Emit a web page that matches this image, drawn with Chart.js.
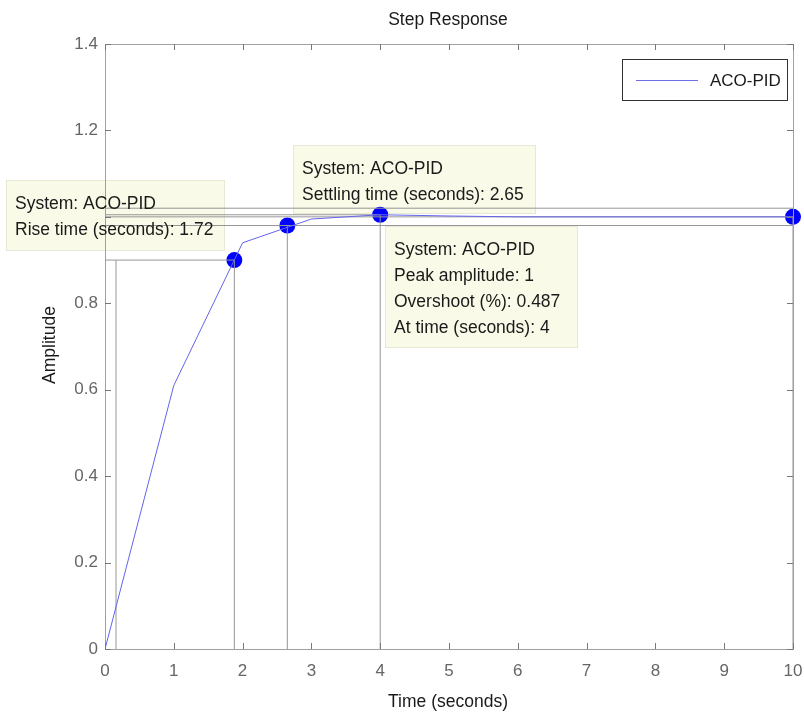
<!DOCTYPE html>
<html>
<head>
<meta charset="utf-8">
<script src="https://cdn.jsdelivr.net/npm/chart.js@4"></script>
<style>
  html, body { margin: 0; padding: 0; background: #fff; }
  #wrap { width: 804px; height: 715px; }
</style>
</head>
<body>
<div id="wrap"><canvas id="step-chart" width="804" height="715"></canvas></div>
<script>
// step response samples
const timeSec = [0, 1, 2, 3, 4, 5, 6, 7, 8, 9, 10];
const amplitude = [0, 0.61, 0.94, 0.995, 1.00487, 1.002, 1.0, 1.0, 1.0, 1.0, 1.0];

// characteristic points: rise (90%), settling, peak, steady state
const markerTimes = [1.88, 2.65, 4, 10];
const markerValues = [0.9, 0.98, 1.00487, 1];

// gray characteristic lines, each [x1, y1, x2, y2]
const riseLines = [[0.16, 0, 0.16, 0.9], [0, 0.9, 1.88, 0.9], [1.88, 0, 1.88, 0.9]];
const settleLines = [[2.65, 0, 2.65, 0.98], [0, 0.98, 10, 0.98], [0, 1.02, 10, 1.02]];
const peakLines = [[4, 0, 4, 1.00487], [0, 1.00487, 4, 1.00487]];
const steadyLines = [[10, 0, 10, 1], [0, 1, 10, 1]];

const xTicks = [0, 1, 2, 3, 4, 5, 6, 7, 8, 9, 10];
const yTicks = [0, 0.2, 0.4, 0.6, 0.8, 1, 1.2, 1.4];

const seriesName = 'ACO-PID';
const tipTexts = [
  ['System: ACO-PID', 'Rise time (seconds): 1.72'],
  ['System: ACO-PID', 'Settling time (seconds): 2.65'],
  ['System: ACO-PID', 'Peak amplitude: 1', 'Overshoot (%): 0.487', 'At time (seconds): 4']
];

const FONT = '"Liberation Sans", Arial, sans-serif';
const GRAY_LINE = 'rgba(150,150,150,1)';

// datatip box placement in pixels (layout only)
const tipBoxes = [
  { x: 6, y: 180, w: 218, h: 70 },
  { x: 293, y: 145, w: 242, h: 68 },
  { x: 385, y: 226, w: 192, h: 121 }
];

function segDatasets(segs, color) {
  return segs.map(s => ({
    data: [{ x: s[0], y: s[1] }, { x: s[2], y: s[3] }],
    showLine: true,
    borderColor: color,
    borderWidth: 1,
    pointRadius: 0,
    clip: false
  }));
}

const refDatasets = [].concat(
  segDatasets(riseLines, GRAY_LINE),
  segDatasets(settleLines, GRAY_LINE),
  segDatasets(peakLines, GRAY_LINE),
  segDatasets(steadyLines, GRAY_LINE)
);

const matlabDecor = {
  id: 'matlabDecor',
  beforeDatasetsDraw(chart) {
    const ctx = chart.ctx;
    ctx.save();
    tipBoxes.forEach(b => {
      ctx.fillStyle = 'rgb(250,250,232)';
      ctx.fillRect(b.x, b.y, b.w, b.h);
      ctx.strokeStyle = 'rgb(232,232,215)';
      ctx.lineWidth = 1;
      ctx.strokeRect(b.x + 0.5, b.y + 0.5, b.w, b.h);
    });
    ctx.restore();
  },
  afterDatasetsDraw(chart) {
    const ctx = chart.ctx;
    const a = chart.chartArea;
    const xs = chart.scales.x, ys = chart.scales.y;
    ctx.save();

    // frame
    ctx.strokeStyle = 'rgb(160,160,160)';
    ctx.lineWidth = 1;
    ctx.strokeRect(a.left + 0.5, a.top + 0.5, a.right - a.left, a.bottom - a.top);

    // inner ticks, all four sides
    ctx.strokeStyle = 'rgb(120,120,120)';
    ctx.beginPath();
    xTicks.forEach(v => {
      const px = Math.round(xs.getPixelForValue(v)) + 0.5;
      ctx.moveTo(px, a.bottom); ctx.lineTo(px, a.bottom - 6);
      ctx.moveTo(px, a.top); ctx.lineTo(px, a.top + 6);
    });
    yTicks.forEach(v => {
      const py = Math.round(ys.getPixelForValue(v)) + 0.5;
      ctx.moveTo(a.left, py); ctx.lineTo(a.left + 6, py);
      ctx.moveTo(a.right, py); ctx.lineTo(a.right - 6, py);
    });
    ctx.stroke();

    // datatip texts
    ctx.fillStyle = '#1a1a1a';
    ctx.font = '17.5px ' + FONT;
    ctx.textAlign = 'left';
    ctx.textBaseline = 'middle';
    tipTexts.forEach((lines, i) => {
      const b = tipBoxes[i];
      lines.forEach((t, j) => ctx.fillText(t, b.x + 9, b.y + 24 + j * 26));
    });

    // legend
    ctx.fillStyle = '#fff';
    ctx.fillRect(622, 59, 165, 41);
    ctx.strokeStyle = '#333';
    ctx.strokeRect(622.5, 59.5, 165, 41);
    ctx.strokeStyle = 'rgb(110,110,230)';
    ctx.beginPath();
    ctx.moveTo(636, 80.5); ctx.lineTo(698, 80.5);
    ctx.stroke();
    ctx.fillStyle = '#1a1a1a';
    ctx.font = '17px ' + FONT;
    ctx.fillText(seriesName, 710, 81);

    // title and axis labels
    ctx.textAlign = 'center';
    ctx.font = '17.5px ' + FONT;
    ctx.fillText('Step Response', 448, 20);
    ctx.fillText('Time (seconds)', 448, 702);
    ctx.translate(50, 345);
    ctx.rotate(-Math.PI / 2);
    ctx.fillText('Amplitude', 0, 0);
    ctx.restore();
  }
};

const ctx = document.getElementById('step-chart');
new Chart(ctx, {
  type: 'scatter',
  data: {
    datasets: [{
      label: seriesName,
      data: timeSec.map((t, i) => ({ x: t, y: amplitude[i] })),
      showLine: true,
      borderColor: 'rgb(100,100,235)',
      borderWidth: 1,
      pointRadius: 0,
      tension: 0
    }].concat(refDatasets, [{
      data: markerTimes.map((t, i) => ({ x: t, y: markerValues[i] })),
      showLine: false,
      pointRadius: 8,
      pointBackgroundColor: '#0000ff',
      pointBorderColor: '#0000ff',
      pointBorderWidth: 0,
      clip: false
    }])
  },
  plugins: [matlabDecor],
  options: {
    responsive: false,
    animation: false,
    devicePixelRatio: 1,
    layout: { padding: { left: 0, top: 44, right: 11, bottom: 0 } },
    plugins: {
      legend: { display: false },
      tooltip: { enabled: false },
      title: { display: false }
    },
    scales: {
      x: {
        type: 'linear',
        min: 0,
        max: 10,
        afterFit: s => { s.height = 66; s.paddingLeft = 0; s.paddingRight = 0; },
        afterBuildTicks: s => { s.ticks = xTicks.map(v => ({ value: v })); },
        grid: { drawOnChartArea: false, drawTicks: false },
        border: { display: false },
        ticks: {
          padding: 12,
          color: '#666',
          font: { family: FONT, size: 17 },
          maxRotation: 0
        }
      },
      y: {
        type: 'linear',
        min: 0,
        max: 1.4,
        afterFit: s => { s.width = 105; s.paddingTop = 0; s.paddingBottom = 0; },
        afterBuildTicks: s => { s.ticks = yTicks.map(v => ({ value: v })); },
        grid: { drawOnChartArea: false, drawTicks: false },
        border: { display: false },
        ticks: {
          padding: 7,
          color: '#666',
          font: { family: FONT, size: 17 },
          callback: v => String(Number(v.toFixed(1)))
        }
      }
    }
  }
});
</script>
</body>
</html>
